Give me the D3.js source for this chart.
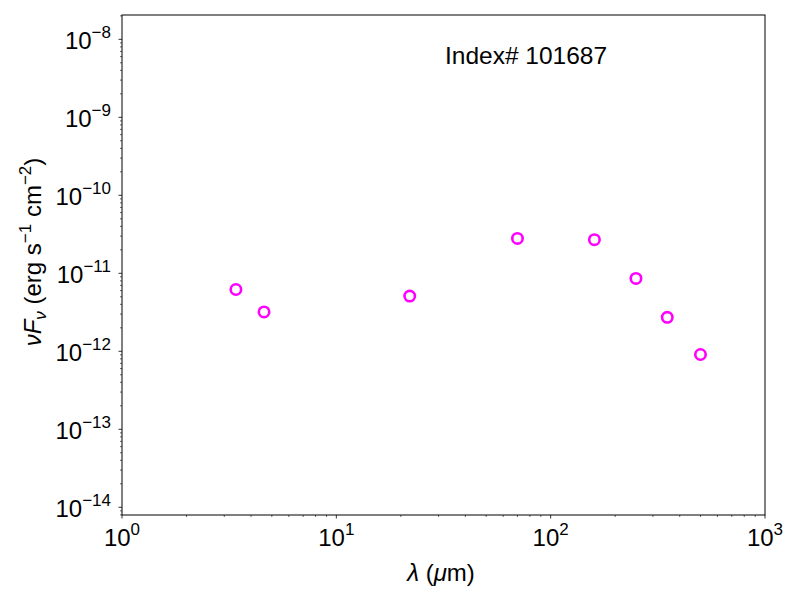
<!DOCTYPE html>
<html>
<head>
<meta charset="utf-8">
<script src="https://cdn.jsdelivr.net/npm/d3@7"></script>
<style>
  body { margin: 0; background: #fff; }
  text { font-family: "Liberation Sans", Arial, sans-serif; fill: #000; }
</style>
</head>
<body>
<div id="chart"></div>
<script>
// wavelengths (micron) and nuFnu (erg s^-1 cm^-2)
var wavelength = [3.4, 4.6, 22, 70, 160, 250, 350, 500];
var flux = [6.2e-12, 3.2e-12, 5.1e-12, 2.8e-11, 2.7e-11, 8.6e-12, 2.73e-12, 9.1e-13];
var xExponents = [0, 1, 2, 3];
var yExponents = [-14, -13, -12, -11, -10, -9, -8];
var title = 'Index# 101687';

var width = 800, height = 600;
var margin = {left: 122, right: 35, top: 15, bottom: 85};

var svg = d3.select('#chart')
    .append('svg')
    .attr('width', width)
    .attr('height', height);

var x = d3.scaleLog()
    .domain([1, 1000])
    .range([margin.left, width - margin.right]);

var y = d3.scaleLog()
    .domain([Math.pow(10, -14.099), Math.pow(10, -7.688)])
    .range([height - margin.bottom, margin.top]);

var plotBottom = height - margin.bottom;

// minor ticks
var xMinor = x.ticks().filter(d => Math.abs(Math.log10(d) % 1) > 1e-6);
var yMinor = y.ticks().filter(d => Math.abs(Math.log10(d) - Math.round(Math.log10(d))) > 1e-6);

svg.selectAll('.xminor')
    .data(xMinor)
    .enter()
    .append('line')
    .attr('x1', d => x(d)).attr('x2', d => x(d))
    .attr('y1', plotBottom).attr('y2', plotBottom + 2)
    .attr('stroke', '#000').attr('stroke-width', 0.6);

svg.selectAll('.yminor')
    .data(yMinor)
    .enter()
    .append('line')
    .attr('x1', margin.left - 2).attr('x2', margin.left)
    .attr('y1', d => y(d)).attr('y2', d => y(d))
    .attr('stroke', '#000').attr('stroke-width', 0.6);

// major ticks
svg.selectAll('.xmajor')
    .data(xExponents)
    .enter()
    .append('line')
    .attr('x1', d => x(Math.pow(10, d))).attr('x2', d => x(Math.pow(10, d)))
    .attr('y1', plotBottom).attr('y2', plotBottom + 3.5)
    .attr('stroke', '#000').attr('stroke-width', 0.8);

svg.selectAll('.ymajor')
    .data(yExponents)
    .enter()
    .append('line')
    .attr('x1', margin.left - 3.5).attr('x2', margin.left)
    .attr('y1', d => y(Math.pow(10, d))).attr('y2', d => y(Math.pow(10, d)))
    .attr('stroke', '#000').attr('stroke-width', 0.8);

// x tick labels
var xLabels = svg.selectAll('.xlab')
    .data(xExponents)
    .enter()
    .append('text')
    .attr('x', d => x(Math.pow(10, d)))
    .attr('y', plotBottom + 31)
    .attr('text-anchor', 'middle')
    .style('font-size', '24px');
xLabels.append('tspan').text('10');
xLabels.append('tspan').attr('dy', -11).style('font-size', '17px').text(d => d);

// y tick labels
var yLabels = svg.selectAll('.ylab')
    .data(yExponents)
    .enter()
    .append('text')
    .attr('x', margin.left - 11)
    .attr('y', d => y(Math.pow(10, d)) + 10)
    .attr('text-anchor', 'end')
    .style('font-size', '24px');
yLabels.append('tspan').text('10');
yLabels.append('tspan').attr('dy', -11).style('font-size', '17px').text(d => '\u2212' + Math.abs(d));

// frame
svg.append('rect')
    .attr('x', margin.left)
    .attr('y', margin.top)
    .attr('width', width - margin.left - margin.right)
    .attr('height', height - margin.top - margin.bottom)
    .attr('fill', 'none')
    .attr('stroke', '#000')
    .attr('stroke-width', 1);

// data points
svg.selectAll('.pt')
    .data(wavelength)
    .enter()
    .append('circle')
    .attr('cx', d => x(d))
    .attr('cy', (d, i) => y(flux[i]))
    .attr('r', 5.2)
    .attr('fill', 'none')
    .attr('stroke', '#ff00ff')
    .attr('stroke-width', 2.6);

// annotation
svg.append('text')
    .attr('x', 445)
    .attr('y', 64)
    .style('font-size', '24.5px')
    .text(title);

// x axis label
var xTitle = svg.append('text')
    .attr('x', 441)
    .attr('y', 581)
    .attr('text-anchor', 'middle')
    .style('font-size', '24px');
xTitle.append('tspan').style('font-style', 'italic').text('\u03bb');
xTitle.append('tspan').text(' (');
xTitle.append('tspan').style('font-style', 'italic').text('\u03bc');
xTitle.append('tspan').text('m)');

// y axis label
var yTitle = svg.append('text')
    .attr('transform', 'translate(41,252) rotate(-90)')
    .attr('text-anchor', 'middle')
    .style('font-size', '24px');
yTitle.append('tspan').style('font-style', 'italic').text('\u03bdF');
yTitle.append('tspan').attr('dy', 5).style('font-size', '17px').style('font-style', 'italic').text('\u03bd');
yTitle.append('tspan').attr('dy', -5).text(' (erg s');
yTitle.append('tspan').attr('dy', -10).style('font-size', '17px').text('\u22121');
yTitle.append('tspan').attr('dy', 10).text(' cm');
yTitle.append('tspan').attr('dy', -10).style('font-size', '17px').text('\u22122');
yTitle.append('tspan').attr('dy', 10).text(')');
</script>
</body>
</html>
